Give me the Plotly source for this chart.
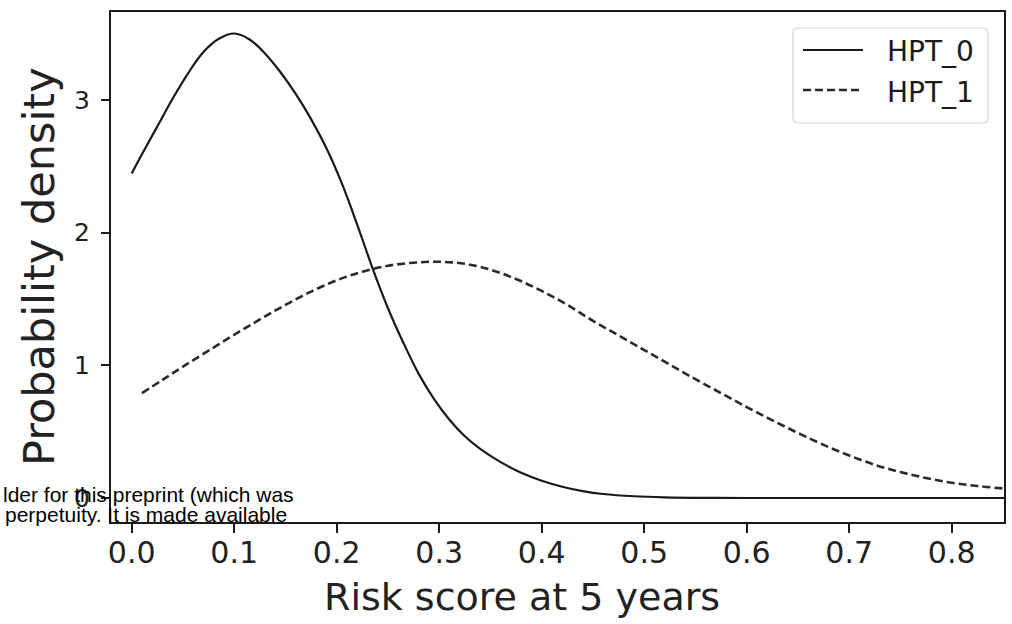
import plotly.graph_objects as go

# ---- data ----
hpt0_x = [0.0, 0.01, 0.025, 0.04, 0.055, 0.07, 0.085, 0.1, 0.115, 0.13, 0.145, 0.16,
          0.175, 0.19, 0.205, 0.22, 0.235, 0.25, 0.265, 0.28, 0.295, 0.31, 0.325,
          0.34, 0.36, 0.38, 0.40, 0.42, 0.44, 0.46, 0.49, 0.52, 0.56, 0.6, 0.7, 0.8, 0.86]
hpt0_y = [2.445, 2.59, 2.80, 3.01, 3.20, 3.36, 3.46, 3.50, 3.455, 3.35, 3.21, 3.045,
          2.855, 2.635, 2.37, 2.06, 1.73, 1.43, 1.17, 0.935, 0.745, 0.59, 0.465,
          0.37, 0.27, 0.19, 0.13, 0.085, 0.052, 0.03, 0.013, 0.005, 0.001, 0.0, 0.0, 0.0, 0.0]

hpt1_x = [0.01, 0.03, 0.05, 0.075, 0.1, 0.125, 0.15, 0.175, 0.2, 0.225, 0.25, 0.275,
          0.3, 0.325, 0.35, 0.375, 0.4, 0.425, 0.45, 0.475, 0.5, 0.525, 0.55, 0.575,
          0.6, 0.625, 0.65, 0.675, 0.7, 0.725, 0.75, 0.775, 0.8, 0.825, 0.85, 0.86]
hpt1_y = [0.79, 0.89, 0.99, 1.11, 1.23, 1.345, 1.455, 1.555, 1.64, 1.705, 1.75, 1.773,
          1.78, 1.765, 1.72, 1.65, 1.56, 1.455, 1.335, 1.225, 1.115, 1.005, 0.895, 0.79,
          0.685, 0.585, 0.49, 0.40, 0.32, 0.25, 0.195, 0.15, 0.115, 0.09, 0.072, 0.066]

series_names = ["HPT_0", "HPT_1"]
series_dash = ["solid", "8px,4px"]
x_ticks = [0.0, 0.1, 0.2, 0.3, 0.4, 0.5, 0.6, 0.7, 0.8]
x_tick_labels = ["0.0", "0.1", "0.2", "0.3", "0.4", "0.5", "0.6", "0.7", "0.8"]
y_ticks = [0, 1, 2, 3]
y_tick_labels = ["0", "1", "2", "3"]
x_title = "Risk score at 5 years"
y_title = "Probability density"
overlay_lines = ["lder for this preprint (which was", "perpetuity. It is made available"]

# ---- layout geometry (pixels) ----
W, H = 1012, 624
L, R, T, B = 111, 1004, 12, 522


def px_x(p):
    return (p - L) / (R - L)


def px_y(p):
    return 1 - (p - T) / (B - T)


FONT = "DejaVu Sans"
INK = "#1a1a1a"
LINE_COLORS = [INK, "#2a2a2a"]
LINE_WIDTHS = [2.2, 2.6]

fig = go.Figure()
fig.add_trace(go.Scatter(x=hpt0_x, y=hpt0_y, mode="lines", name=series_names[0],
                         showlegend=False, hoverinfo="skip",
                         line=dict(color=LINE_COLORS[0], width=LINE_WIDTHS[0],
                                   dash=series_dash[0], shape="spline", smoothing=1.0)))
fig.add_trace(go.Scatter(x=hpt1_x, y=hpt1_y, mode="lines", name=series_names[1],
                         showlegend=False, hoverinfo="skip",
                         line=dict(color=LINE_COLORS[1], width=LINE_WIDTHS[1],
                                   dash=series_dash[1], shape="spline", smoothing=1.0)))

fig.update_layout(
    width=W, height=H,
    margin=dict(l=L, r=W - R, t=T, b=H - B, pad=0, autoexpand=False),
    paper_bgcolor="white", plot_bgcolor="white",
    font=dict(family=FONT, color=INK),
    showlegend=False,
    xaxis=dict(range=[-0.0202, 0.851], tickvals=x_ticks, ticktext=x_tick_labels,
               automargin=False,
               showgrid=False, zeroline=False, showline=True, linecolor=INK, linewidth=2,
               mirror=True, ticks="outside", ticklen=9, tickwidth=2, tickcolor=INK,
               tickfont=dict(family=FONT, size=30, color="#222"), ticklabelstandoff=-6),
    yaxis=dict(range=[-0.181, 3.662], tickvals=y_ticks, ticktext=y_tick_labels,
               automargin=False,
               showgrid=False, zeroline=False, showline=True, linecolor=INK, linewidth=2,
               mirror=True, ticks="outside", ticklen=8, tickwidth=2, tickcolor=INK,
               tickfont=dict(family=FONT, size=25, color="#222"), ticklabelstandoff=6),
)

# ---- custom legend (box, line samples, labels) ----
bx0, bx1, by0, by1, rad = 793, 988, 28, 123, 5


def P(x, y):
    return f"{px_x(x):.5f},{px_y(y):.5f}"


box_path = (f"M {P(bx0 + rad, by0)} L {P(bx1 - rad, by0)} Q {P(bx1, by0)} {P(bx1, by0 + rad)} "
            f"L {P(bx1, by1 - rad)} Q {P(bx1, by1)} {P(bx1 - rad, by1)} "
            f"L {P(bx0 + rad, by1)} Q {P(bx0, by1)} {P(bx0, by1 - rad)} "
            f"L {P(bx0, by0 + rad)} Q {P(bx0, by0)} {P(bx0 + rad, by0)} Z")
fig.add_shape(type="path", path=box_path, xref="paper", yref="paper",
              line=dict(color="#d6d6d6", width=1.2), fillcolor="rgba(255,255,255,0.85)")

legend_rows = [50, 90]
for i, name in enumerate(series_names):
    yy = legend_rows[i]
    fig.add_shape(type="line", xref="paper", yref="paper",
                  x0=px_x(803), x1=px_x(863), y0=px_y(yy), y1=px_y(yy),
                  line=dict(color=LINE_COLORS[i], width=LINE_WIDTHS[i], dash=series_dash[i]))
    fig.add_annotation(text=name, xref="paper", yref="paper", x=px_x(885), y=px_y(yy + 2),
                       xanchor="left", yanchor="middle", showarrow=False,
                       font=dict(family=FONT, size=28, color=INK))

# axis titles
fig.add_annotation(text=x_title, xref="paper", yref="paper", x=px_x(521.5), y=px_y(597),
                   xanchor="center", yanchor="middle", showarrow=False,
                   font=dict(family=FONT, size=38, color="#222"))
fig.add_annotation(text=y_title, xref="paper", yref="paper", x=px_x(39), y=px_y(267),
                   xanchor="center", yanchor="middle", textangle=-90, showarrow=False,
                   font=dict(family=FONT, size=43, color="#222"))

# overlaid watermark text
fig.add_annotation(text=overlay_lines[0], xref="paper", yref="paper", x=px_x(1), y=px_y(494),
                   xanchor="left", yanchor="middle", showarrow=False,
                   font=dict(family="Liberation Sans", size=21, color="black"))
fig.add_annotation(text=overlay_lines[1], xref="paper", yref="paper", x=px_x(3), y=px_y(514),
                   xanchor="left", yanchor="middle", showarrow=False,
                   font=dict(family="Liberation Sans", size=21, color="black"))

fig.write_html("out.html", config={"displayModeBar": False},
               post_script="document.body.style.margin='0';")
